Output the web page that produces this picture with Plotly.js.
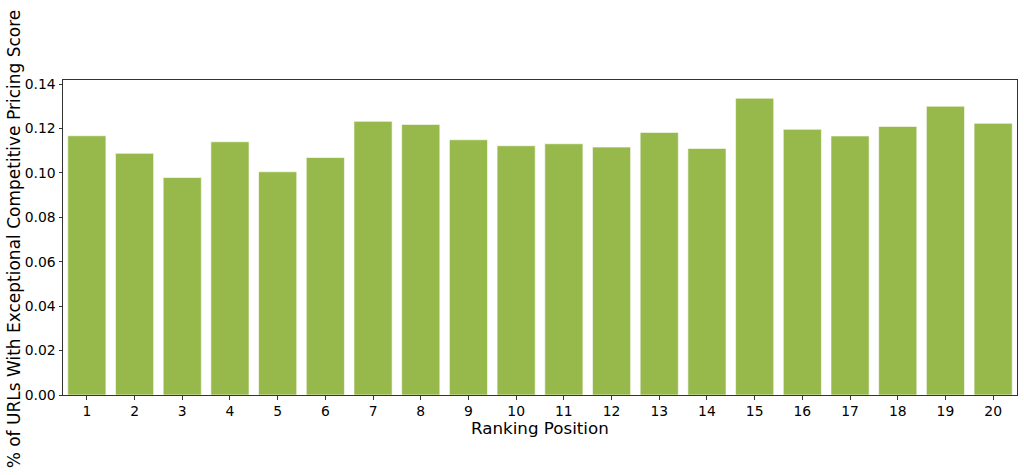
<!DOCTYPE html>
<html>
<head>
<meta charset="utf-8">
<script src="https://cdn.plot.ly/plotly-3.0.1.min.js"></script>
<style>html,body{margin:0;padding:0;background:#fff;}#chart{width:1024px;height:475px;}</style>
</head>
<body>
<div id="chart"></div>
<script>
const positions = ["1","2","3","4","5","6","7","8","9","10","11","12","13","14","15","16","17","18","19","20"];
const shareExceptional = [0.1167,0.1088,0.0979,0.1140,0.1005,0.1069,0.1232,0.1218,0.1149,0.1122,0.1131,0.1116,0.1182,0.1110,0.1336,0.1196,0.1166,0.1209,0.1300,0.1223];
const yTicks = [0,0.02,0.04,0.06,0.08,0.10,0.12,0.14];
const yTickLabels = ["0.00","0.02","0.04","0.06","0.08","0.10","0.12","0.14"];
const xTitle = "Ranking Position";
const yTitle = "% of URLs With Exceptional Competitive Pricing Score";

const font = "DejaVu Sans, sans-serif";
const trace = {
  type: "bar",
  x: positions,
  y: shareExceptional,
  marker: {color: "rgb(151,185,76)", line: {color: "rgba(255,255,255,0.6)", width: 1}},
  hoverinfo: "x+y"
};
const layout = {
  width: 1024, height: 475,
  margin: {l: 63, r: 7, t: 80, b: 80, pad: 0},
  paper_bgcolor: "#fff", plot_bgcolor: "#fff",
  bargap: 0.2,
  showlegend: false,
  font: {family: font, color: "#000", size: 13.9},
  xaxis: {
    type: "category", range: [-0.5, 19.5],
    showgrid: false, zeroline: false,
    showline: true, mirror: true, linecolor: "#333", linewidth: 1,
    ticks: "outside", ticklen: 3.5, tickwidth: 0.8, tickcolor: "#000",
    tickfont: {family: font, size: 13.9, color: "#000"}
  },
  yaxis: {
    range: [0, 0.1418],
    tickvals: yTicks, ticktext: yTickLabels,
    showgrid: false, zeroline: false,
    showline: true, mirror: true, linecolor: "#333", linewidth: 1,
    ticks: "outside", ticklen: 3.5, tickwidth: 0.8, tickcolor: "#000",
    tickfont: {family: font, size: 13.9, color: "#000"}
  },
  annotations: [
    {text: xTitle, xref: "paper", yref: "paper", x: 0.5, y: -0.104, xanchor: "center", yanchor: "middle", showarrow: false, font: {family: font, size: 16.7, color: "#000"}},
    {text: yTitle, xref: "paper", yref: "paper", x: -0.0504, y: 0.497, xanchor: "center", yanchor: "middle", textangle: -90, showarrow: false, font: {family: font, size: 17, color: "#000"}}
  ]
};
Plotly.newPlot("chart", [trace], layout, {displayModeBar: false, staticPlot: true});
</script>
</body>
</html>
